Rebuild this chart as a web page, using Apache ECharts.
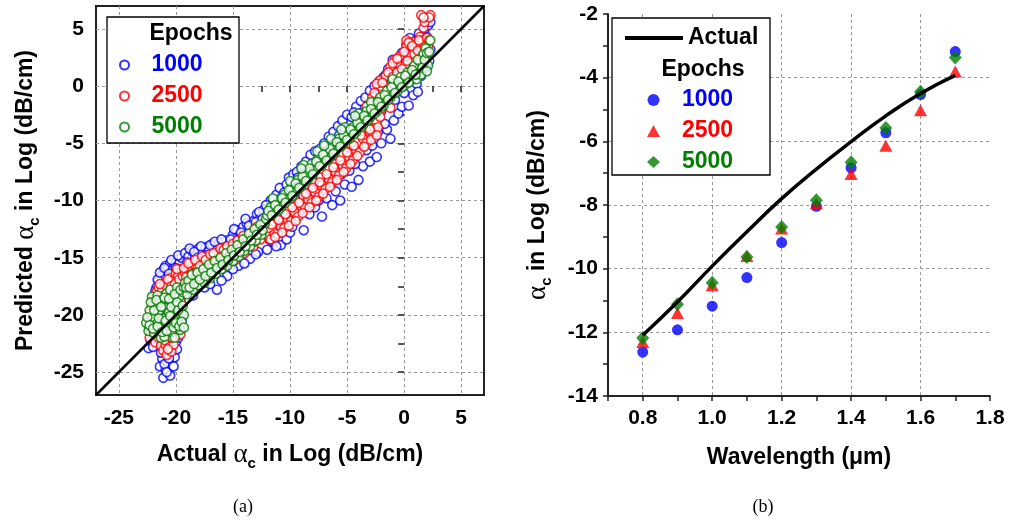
<!DOCTYPE html>
<html><head><meta charset="utf-8">
<script src="https://cdn.jsdelivr.net/npm/echarts@6/dist/echarts.min.js"></script>
<style>html,body{margin:0;padding:0;background:#fff}#c{width:1010px;height:522px}</style>
</head><body><div id="c"></div>
<script>
// ---------- DATA ----------
// Panel (a): [actual, predicted] pairs for each epoch count
const pred1000 = [
[-22.4,-22.9],[-22.2,-22.3],[-22.3,-21.2],[-22.1,-20.0],[-22.0,-19.2],[-21.9,-18.3],[-21.8,-21.8],[-21.7,-17.6],[-21.6,-22.3],[-21.5,-17.0],[-21.5,-20.5],[-21.4,-24.5],[-21.3,-16.6],[-21.2,-23.8],[-21.1,-25.5],[-21.1,-16.1],[-20.9,-15.7],[-20.9,-24.8],[-20.8,-19.5],[-20.7,-15.9],[-20.7,-24.1],[-20.5,-15.5],[-20.5,-25.3],[-20.3,-16.0],[-20.3,-23.2],[-20.2,-18.5],[-20.1,-15.6],[-20.1,-23.7],[-20.0,-22.4],[-19.9,-15.2],[-19.8,-22.0],[-19.7,-15.4],[-19.7,-21.2],[-19.6,-18.8],[-19.5,-15.0],[-19.5,-20.5],
[-22.0,-22.8],[-21.8,-17.9],[-21.6,-16.9],[-21.4,-16.3],[-21.0,-15.9],[-20.6,-16.4],[-20.4,-15.2],[-20.0,-15.9],[-19.8,-14.8],[-21.0,-24.3],[-20.8,-25.0],[-20.6,-23.8],[-20.2,-24.5],[-20.4,-22.0],[-19.9,-23.0],[-21.3,-23.3],
[-19.2,-14.6],[-18.9,-14.9],[-18.6,-14.4],[-18.5,-18.3],[-18.3,-14.9],[-18.0,-14.2],[-17.7,-14.6],[-17.5,-17.6],[-17.4,-14.1],[-17.1,-14.4],[-16.8,-13.8],[-16.5,-14.3],[-16.4,-17.8],[-16.2,-13.7],[-15.9,-14.1],[-15.6,-13.5],[-15.5,-16.6],[-15.3,-13.8],[-15.0,-13.0],[-14.7,-12.6],[-14.5,-15.7],[-14.4,-13.3],[-14.1,-12.3],[-13.8,-12.0],[-13.5,-12.6],[-13.5,-15.1],[-13.2,-11.8],[-12.9,-11.2],[-12.8,-14.5],[-12.6,-11.5],[-12.3,-10.8],[-12.0,-14.3],[-11.7,-10.0],[-11.5,-13.6],[-11.2,-9.5],[-10.9,-8.9],[-10.8,-13.9],[-10.5,-9.3],[-10.3,-13.4],[-10.1,-8.0],[-10.0,-12.8],
[-19.0,-15.4],[-18.8,-14.2],[-18.4,-14.5],[-18.1,-15.0],[-17.8,-14.0],[-17.3,-14.8],[-17.0,-13.9],[-16.6,-13.6],[-16.0,-13.4],[-15.7,-14.3],[-15.2,-13.4],[-14.9,-12.5],[-14.6,-13.5],[-14.3,-12.8],[-13.9,-11.6],[-13.6,-12.2],[-13.0,-11.9],[-12.7,-11.0],[-12.4,-11.6],[-12.1,-10.4],[-11.9,-11.0],[-11.5,-9.9],[-11.3,-10.5],[-10.7,-9.7],[-10.3,-8.6],
[-17.0,-17.3],[-16.0,-17.0],[-15.0,-16.0],[-14.0,-15.5],[-13.0,-14.7],[-11.8,-13.4],[-11.2,-14.0],
[-9.7,-7.7],[-9.4,-7.5],[-9.0,-7.0],[-8.6,-6.6],[-8.2,-6.0],[-7.8,-5.7],[-7.4,-5.5],[-7.0,-5.0],[-6.6,-4.4],[-6.2,-4.0],[-5.8,-3.5],[-5.4,-3.0],[-5.0,-2.5],[-4.6,-2.7],[-4.2,-1.8],[-3.8,-1.3],[-3.4,-1.0],[-3.0,-0.4],[-2.6,0.0],[-2.2,0.4],[-1.8,0.8],[-1.4,1.5],[-1.0,2.3],[-0.6,2.0],[-0.2,2.9],[0.2,3.6],[0.5,4.2],[0.9,3.9],[1.3,4.6],[1.8,5.0],[2.1,5.3],[2.3,5.6],
[-11.4,-12.2],[-10.6,-11.8],[-9.8,-12.3],[-9.2,-11.0],[-8.8,-12.6],[-8.3,-11.2],[-7.8,-10.6],[-7.2,-11.4],[-6.8,-9.8],[-6.3,-10.4],[-5.6,-10.0],[-5.2,-8.6],[-4.6,-8.8],[-4.0,-8.2],[-3.6,-7.0],[-3.0,-6.6],[-2.4,-6.2],[-2.0,-5.0],[-1.5,-3.8],[-1.2,-4.6],[-0.9,-3.0],[-0.5,-2.4],[-0.2,-1.8],[0.4,-1.7],[0.8,-0.8],[1.1,0.2],[1.5,0.9],[1.9,1.6],[2.2,2.2],
[-11.0,-11.0],[-9.5,-9.3],[-8.0,-8.3],[-6.5,-6.3],[-5.0,-5.3],[-3.5,-3.4],[-2.0,-2.2],[-0.5,-0.3],[1.0,1.2],
[-9.9,-8.4],[-9.6,-10.5],[-9.3,-8.0],[-8.9,-9.5],[-8.5,-7.4],[-8.1,-9.1],[-7.6,-6.5],[-7.5,-10.0],[-7.1,-6.0],[-6.9,-8.6],[-6.4,-5.3],[-6.0,-9.2],[-5.7,-4.3],[-5.5,-7.7],[-5.2,-3.8],[-4.8,-7.4],[-4.4,-2.3],[-4.3,-6.8],[-3.9,-2.4],[-3.3,-5.6],[-3.2,-1.7],[-2.8,-5.2],[-2.7,-0.9],[-2.3,-4.0],[-1.9,-0.3],[-1.7,-3.3],[-1.6,1.0],[-1.1,0.5],[-0.8,-1.2],[-0.4,1.3],[0.0,-0.6],[0.1,2.6],[0.6,0.8],[0.7,3.3],[1.2,-0.5],[1.4,2.8],[1.6,3.7],[2.0,4.3],[2.3,3.2]
];
const pred2500 = [
[-22.3,-22.0],[-22.2,-20.8],[-22.1,-19.3],[-22.0,-21.5],[-21.9,-18.5],[-21.8,-22.4],[-21.7,-18.0],[-21.5,-17.6],[-21.5,-22.0],[-21.5,-20.5],[-21.3,-22.7],[-21.2,-17.8],[-21.1,-23.1],[-21.0,-17.2],[-20.9,-22.6],[-20.8,-17.5],[-20.8,-23.5],[-20.8,-19.8],[-20.6,-22.8],[-20.5,-16.8],[-20.4,-23.2],[-20.3,-17.0],[-20.2,-22.6],[-20.2,-19.0],[-20.0,-16.4],[-20.0,-21.9],[-19.8,-16.6],[-19.8,-21.2],[-19.7,-20.2],[-19.6,-18.8],[-19.5,-16.0],
[-22.3,-21.0],[-22.2,-19.8],[-22.0,-18.9],[-21.8,-20.3],[-21.6,-18.6],[-21.4,-17.3],[-21.3,-19.0],[-21.0,-18.3],[-21.0,-22.2],[-20.7,-16.9],[-20.7,-23.0],[-20.6,-18.0],[-20.4,-17.5],[-20.3,-22.0],[-20.1,-17.3],[-19.9,-16.0],[-19.9,-19.5],[-19.7,-16.9],[-19.6,-21.7],[-19.4,-16.6],[-19.4,-17.6],
[-19.2,-16.3],[-19.0,-15.8],[-18.8,-17.3],[-18.7,-16.0],[-18.4,-15.6],[-18.1,-15.9],[-18.0,-16.9],[-17.8,-15.3],[-17.5,-15.6],[-17.2,-15.0],[-17.2,-16.4],[-16.9,-15.3],[-16.6,-14.8],[-16.4,-16.0],[-16.3,-15.1],[-16.0,-14.5],[-15.7,-14.8],[-15.6,-15.5],[-15.4,-14.2],[-15.1,-14.5],[-14.8,-13.9],[-14.8,-15.2],[-14.5,-14.1],[-14.2,-13.4],[-14.0,-14.6],[-13.9,-13.7],[-13.6,-13.0],[-13.3,-13.2],[-13.2,-14.0],[-13.0,-12.6],[-12.7,-12.9],[-12.4,-12.3],
[-19.3,-15.9],[-19.1,-16.7],[-18.9,-15.5],[-18.6,-16.4],[-18.3,-15.2],[-18.2,-16.3],[-17.9,-15.7],[-17.7,-14.9],[-17.6,-16.1],[-17.4,-15.2],[-17.0,-14.7],[-16.8,-15.6],[-16.7,-14.6],[-16.5,-15.4],[-16.1,-14.2],[-15.9,-15.0],[-15.8,-14.3],[-15.5,-14.0],[-15.3,-14.9],[-15.0,-13.8],[-14.9,-14.6],[-14.6,-13.5],[-14.4,-14.3],[-14.1,-13.1],[-13.8,-14.1],[-13.5,-13.3],[-13.4,-12.8],[-13.1,-13.6],[-12.9,-12.3],[-12.6,-13.4],[-12.5,-12.7],[-12.2,-12.6],
[-12.0,-13.0],[-11.7,-13.4],[-11.5,-11.9],[-11.4,-12.8],[-11.1,-12.9],[-10.8,-12.3],[-10.5,-12.4],[-10.2,-11.6],[-10.0,-10.8],[-9.9,-11.8],[-9.6,-11.0],[-9.3,-11.4],[-9.0,-10.5],[-8.8,-9.6],[-8.7,-10.6],[-8.4,-9.9],[-8.1,-10.2],[-7.8,-9.3],[-7.5,-9.7],[-7.3,-8.0],[-7.2,-8.7],[-6.9,-9.0],[-6.6,-8.1],[-6.3,-8.4],[-6.0,-7.5],[-6.0,-6.8],[-5.7,-7.8],[-5.4,-6.9],[-5.1,-7.2],[-4.8,-6.2],[-4.6,-5.1],[-4.5,-6.5],[-4.2,-5.6],[-3.9,-5.8],[-3.6,-4.6],[-3.6,-3.9],[-3.3,-5.0],[-3.0,-4.0],[-2.7,-4.3],[-2.4,-3.2],
[-11.9,-12.4],[-11.6,-12.1],[-11.3,-13.2],[-11.0,-11.7],[-10.7,-12.8],[-10.4,-11.2],[-10.1,-12.2],[-9.8,-10.6],[-9.5,-11.8],[-9.2,-10.2],[-8.9,-11.1],[-8.6,-9.4],[-8.3,-10.6],[-8.0,-8.9],[-7.7,-10.0],[-7.4,-8.4],[-7.1,-9.4],[-6.8,-7.7],[-6.5,-8.8],[-6.2,-7.1],[-5.9,-8.2],[-5.6,-6.5],[-5.3,-7.5],[-5.0,-5.8],[-4.7,-6.8],[-4.4,-5.2],[-4.1,-6.1],[-3.8,-4.3],[-3.5,-5.3],[-3.2,-3.6],[-2.9,-4.7],[-2.6,-3.7],[-2.3,-3.6],[-2.0,-2.0],
[-2.4,-4.3],[-3.0,-3.8],[-2.1,-2.7],[-1.8,-1.5],[-1.2,-1.9],[-3.3,-1.8],[-2.8,-1.0],[-2.1,0.0],[-2.1,0.5],[-1.6,0.9],[-1.2,1.7],[-0.8,2.3],[-0.8,-0.3],[-0.4,0.7],[-0.4,2.6],[0.1,1.8],[0.2,3.6],[0.2,4.0],[0.6,2.7],[0.8,1.4],[1.0,2.3],[1.0,3.9],[1.1,3.7],[1.4,1.7],[1.4,4.3],[1.6,4.0],[1.7,5.1],[1.8,5.6],[1.5,6.2],[2.3,6.2],[1.9,2.5],[2.1,3.5],
[-2.6,-0.6],[-2.4,0.2],[-1.9,0.3],[-1.5,-0.8],[-1.4,1.2],[-1.0,0.8],[-1.0,2.0],[-0.6,1.2],[-0.6,2.4],[-0.2,1.5],[0.0,3.0],[0.3,2.2],[0.4,3.8],[0.5,1.2],[0.7,3.5],[0.9,2.8],[1.2,3.1],[1.3,4.0],[1.6,2.6],[1.8,3.4],[2.0,4.2],[2.2,4.0],[2.2,6.0],[1.7,6.0]
];
const pred5000 = [
[-22.6,-20.7],[-22.4,-21.4],[-22.3,-19.6],[-22.1,-18.4],[-22.0,-20.2],[-21.9,-21.6],[-21.8,-19.0],[-21.7,-20.8],[-21.6,-18.3],[-21.5,-19.7],[-21.4,-21.2],[-21.3,-22.0],[-21.2,-18.7],[-21.1,-20.3],[-21.0,-21.9],[-20.9,-19.4],[-20.8,-18.1],[-20.7,-20.9],[-20.6,-19.8],[-20.5,-17.8],[-20.4,-21.5],[-20.3,-18.9],[-20.2,-20.4],[-20.1,-22.0],[-20.0,-19.2],[-19.9,-17.6],[-19.8,-20.8],[-19.7,-18.4],[-19.6,-21.3],[-19.5,-19.8],[-19.4,-18.0],[-19.3,-20.0],
[-22.5,-20.2],[-22.3,-20.9],[-22.2,-18.9],[-22.0,-21.2],[-21.9,-19.6],[-21.7,-18.7],[-21.6,-21.0],[-21.5,-20.3],[-21.3,-19.3],[-21.2,-21.5],[-21.0,-18.5],[-20.9,-20.5],[-20.8,-21.4],[-20.6,-18.6],[-20.5,-20.1],[-20.4,-19.3],[-20.2,-21.1],[-20.1,-18.2],[-20.0,-20.7],[-19.9,-18.9],[-19.8,-19.6],[-19.7,-21.0],[-19.6,-17.8],[-19.5,-20.6],[-19.4,-19.2],[-19.3,-17.6],[-19.3,-21.1],
[-19.2,-17.2],[-19.0,-18.2],[-18.7,-16.9],[-18.5,-17.8],[-18.2,-16.8],[-18.0,-17.4],[-17.7,-16.4],[-17.5,-17.2],[-17.2,-16.1],[-17.0,-16.8],[-16.7,-15.8],[-16.5,-16.4],[-16.2,-15.5],[-16.0,-16.0],[-15.7,-15.1],[-15.5,-15.7],[-15.2,-14.8],[-15.0,-15.3],[-14.7,-14.3],[-14.5,-14.9],[-14.2,-13.9],[-14.0,-14.4],[-13.7,-13.4],[-13.5,-14.0],[-13.2,-13.0],[-13.0,-13.5],[-12.7,-12.5],[-12.5,-13.0],[-12.2,-12.0],
[-19.1,-17.6],[-18.9,-17.0],[-18.8,-17.6],[-18.6,-16.5],[-18.4,-17.3],[-18.1,-16.3],[-17.9,-16.9],[-17.6,-16.0],[-17.4,-16.6],[-17.1,-15.6],[-16.9,-16.3],[-16.6,-15.3],[-16.4,-15.9],[-16.1,-15.0],[-15.9,-15.6],[-15.6,-14.6],[-15.4,-15.2],[-15.1,-14.3],[-14.9,-14.8],[-14.6,-13.9],[-14.4,-14.5],[-14.1,-13.4],[-13.9,-14.0],[-13.6,-12.9],[-13.4,-13.5],[-13.1,-12.5],[-12.9,-13.0],[-12.6,-12.1],[-12.4,-12.6],[-12.1,-11.6],
[-12.0,-11.3],[-11.7,-10.6],[-11.4,-11.0],[-11.1,-10.2],[-10.8,-10.6],[-10.5,-9.5],[-10.2,-9.9],[-9.9,-8.9],[-9.6,-9.3],[-9.3,-8.2],[-9.0,-8.7],[-8.7,-7.6],[-8.4,-8.1],[-8.1,-6.8],[-7.8,-7.4],[-7.5,-6.3],[-7.2,-6.9],[-6.9,-5.8],[-6.6,-6.3],[-6.3,-5.2],[-6.0,-5.7],[-5.7,-4.6],[-5.4,-5.1],[-5.1,-4.0],[-4.8,-4.6],[-4.5,-3.6],[-4.2,-4.0],[-3.9,-2.9],[-3.6,-3.4],[-3.3,-2.2],[-3.0,-2.8],[-2.7,-1.6],[-2.4,-2.2],[-2.1,-1.0],[-1.8,-1.7],[-1.5,-0.4],[-1.2,-1.0],[-0.9,0.2],[-0.6,-0.5],[-0.3,0.8],[0.0,0.0],[0.3,1.2],[0.6,0.5],[0.9,1.8],[1.1,0.6],[1.4,2.1],[1.5,1.0],[1.7,2.8],[1.9,3.3],[2.1,1.8],[2.3,4.0],
[-11.5,-9.8],[-10.0,-8.3],[-8.8,-6.9],[-7.6,-5.7],[-6.4,-4.6],[-5.2,-3.6],[-4.0,-2.4],[-2.9,-1.4],[-1.0,0.6],
[-11.9,-10.9],[-11.6,-11.3],[-11.3,-10.4],[-11.0,-10.8],[-10.7,-9.8],[-10.4,-10.2],[-10.1,-9.1],[-9.8,-9.6],[-9.5,-8.5],[-9.2,-8.9],[-8.9,-7.9],[-8.6,-8.3],[-8.3,-7.2],[-8.0,-7.7],[-7.7,-6.6],[-7.4,-7.0],[-7.1,-6.0],[-6.8,-6.5],[-6.5,-5.5],[-6.2,-5.9],[-5.9,-4.9],[-5.6,-5.3],[-5.3,-4.3],[-5.0,-4.7],[-4.7,-3.8],[-4.4,-4.2],[-4.1,-3.2],[-3.8,-3.6],[-3.5,-2.6],[-3.2,-3.0],[-2.9,-2.0],[-2.6,-2.4],[-2.3,-1.4],[-2.0,-1.8],[-1.7,-0.8],[-1.4,-1.2],[-1.1,-0.1],[-0.8,-0.6],[-0.5,0.4],[-0.2,-0.1],[0.1,0.9],[0.4,0.3],[0.7,1.4],[1.0,1.0],[1.2,2.3],[1.6,1.6],[1.8,2.3],[2.0,2.9],[2.2,3.0],[2.0,1.3],
[-9.0,-7.2],[-7.0,-5.2],[-5.5,-3.8],[-4.3,-2.6]
];
const identityRange = [-27, 7];              // ideal-fit line y = x over the axis range
const ticksA = [-25, -20, -15, -10, -5, 0, 5];
const tickMarksA = [-25, -22.5, -20, -17.5, -15, -12.5, -10, -7.5, -5, -2.5, 0, 2.5, 5];

// Panel (b)
const wavelength = [0.8, 0.9, 1.0, 1.1, 1.2, 1.3, 1.4, 1.5, 1.6, 1.7];
const actualB = [-12.09, -11.05, -9.92, -8.84, -7.80, -6.87, -6.01, -5.20, -4.50, -3.93];
const ep1000 = [-12.62, -11.92, -11.18, -10.28, -9.18, -8.04, -6.83, -5.73, -4.53, -3.18];
const ep2500 = [-12.30, -11.39, -10.52, -9.60, -8.74, -7.95, -7.03, -6.14, -5.02, -3.81];
const ep5000 = [-12.18, -11.12, -10.44, -9.63, -8.69, -7.85, -6.66, -5.58, -4.44, -3.37];
const wlTicks = [0.8, 1.0, 1.2, 1.4, 1.6, 1.8];
const wlTickMarks = [0.7, 0.8, 0.9, 1.0, 1.1, 1.2, 1.3, 1.4, 1.5, 1.6, 1.7, 1.8];
const yTicksB = [-14, -12, -10, -8, -6, -4, -2];
const yTickMarksB = [-14, -13, -12, -11, -10, -9, -8, -7, -6, -5, -4, -3, -2];

// ---------- STYLE ----------
const FONT = '"Liberation Sans", Arial, sans-serif';
const SERIF = '"Liberation Serif", "Times New Roman", serif';
const BLUE = '#0000ff', RED = '#ff0000', GREEN = '#008000';
const tickLbl = {fontFamily: FONT, fontWeight: 'bold', fontSize: 21, color: '#000'};
const gridLine = {show: true, showMinLine: false, showMaxLine: false, lineStyle: {type: [3, 3], color: '#9a9a9a', width: 1}};
const richName = {
  t: {fontFamily: FONT, fontWeight: 'bold', fontSize: 23, lineHeight: 32, color: '#000'},
  a: {fontFamily: SERIF, fontWeight: 'normal', fontSize: 27, lineHeight: 32, color: '#000'},
  s: {fontFamily: FONT, fontWeight: 'bold', fontSize: 15, lineHeight: 15, verticalAlign: 'bottom', color: '#000'}
};
const nameStyle = {fontFamily: FONT, fontWeight: 'bold', fontSize: 23, color: '#000', rich: richName};
const legendText = {fontFamily: FONT, fontWeight: 'bold', fontSize: 23, lineHeight: 24};

const chart = echarts.init(document.getElementById('c'), null, {renderer: 'canvas'});

const hollow = (c) => ({color: '#fff', borderColor: c, borderWidth: 1.6});

const option = {
  animation: false,
  backgroundColor: '#fff',
  grid: [
    {left: 96, top: 6, width: 388, height: 389, show: true, borderColor: '#222', borderWidth: 2, backgroundColor: 'transparent'},
    {left: 608, top: 14, width: 382, height: 382}
  ],
  xAxis: [
    {gridIndex: 0, type: 'value', min: identityRange[0], max: identityRange[1], position: 'bottom',
     axisLine: {show: false},
     axisTick: {show: true, inside: false, length: 6, customValues: tickMarksA, lineStyle: {color: '#222', width: 1.5}},
     axisLabel: {customValues: ticksA, margin: 13, ...tickLbl},
     splitLine: {show: false},
     name: '{t|Actual }{a|α}{s|c}{t| in Log (dB/cm)}', nameLocation: 'middle', nameGap: 44, nameTextStyle: nameStyle},
    {gridIndex: 0, type: 'value', min: identityRange[0], max: identityRange[1], position: 'top', splitNumber: 7,
     axisLine: {show: false}, axisTick: {show: false}, axisLabel: {show: false}, splitLine: gridLine},
    {gridIndex: 1, type: 'value', min: 0.7, max: 1.8, position: 'bottom',
     axisLine: {show: true, onZero: false, lineStyle: {color: '#222', width: 2}},
     axisTick: {show: true, inside: false, length: 5, customValues: wlTickMarks, lineStyle: {color: '#222', width: 1.5}},
     axisLabel: {customValues: wlTicks, margin: 12, formatter: v => v.toFixed(1), ...tickLbl},
     splitLine: {show: false},
     name: 'Wavelength (μm)', nameLocation: 'middle', nameGap: 50, nameTextStyle: {fontFamily: FONT, fontWeight: 'bold', fontSize: 23, color: '#000'}},
    {gridIndex: 1, type: 'value', min: 0.7, max: 1.8, position: 'top', splitNumber: 5,
     axisLine: {show: false}, axisTick: {show: false}, axisLabel: {show: false}, splitLine: gridLine}
  ],
  yAxis: [
    {gridIndex: 0, type: 'value', min: identityRange[0], max: identityRange[1], position: 'left',
     axisLine: {show: false},
     axisTick: {show: true, inside: false, length: 6, customValues: tickMarksA, lineStyle: {color: '#222', width: 1.5}},
     axisLabel: {customValues: ticksA, margin: 12, ...tickLbl},
     splitLine: {show: false},
     name: '{t|Predicted }{a|α}{s|c}{t| in Log (dB/cm)}', nameLocation: 'middle', nameGap: 54, nameTextStyle: nameStyle},
    {gridIndex: 0, type: 'value', min: identityRange[0], max: identityRange[1], position: 'right', splitNumber: 7,
     axisLine: {show: false}, axisTick: {show: false}, axisLabel: {show: false}, splitLine: gridLine},
    {gridIndex: 1, type: 'value', min: -14, max: -2, position: 'left',
     axisLine: {show: true, onZero: false, lineStyle: {color: '#222', width: 2}},
     axisTick: {show: true, inside: false, length: 5, customValues: yTickMarksB, lineStyle: {color: '#222', width: 1.5}},
     axisLabel: {customValues: yTicksB, margin: 10, ...tickLbl},
     splitLine: {show: false},
     name: '{a|α}{s|c}{t| in Log (dB/cm)}', nameLocation: 'middle', nameGap: 54, nameTextStyle: nameStyle},
    {gridIndex: 1, type: 'value', min: -14, max: -2, interval: 2, position: 'right',
     axisLine: {show: false}, axisTick: {show: false}, axisLabel: {show: false}, splitLine: gridLine}
  ],
  legend: [
    {data: [{name: '1000', textStyle: {color: BLUE}}, {name: '2500', textStyle: {color: RED}}, {name: '5000', textStyle: {color: GREEN}}],
     left: 119, top: 53, orient: 'vertical', padding: 0, itemWidth: 44, itemHeight: 9, itemGap: 7, selectedMode: false, z: 10,
     textStyle: legendText},
    {data: [{name: 'Actual', textStyle: {color: '#000'}}],
     left: 625, top: 26, orient: 'vertical', padding: 0, itemWidth: 58, itemHeight: 4, icon: 'rect', selectedMode: false, z: 10,
     textStyle: legendText},
    {data: [{name: '1000 ', textStyle: {color: BLUE}}, {name: '2500 ', textStyle: {color: RED}}, {name: '5000 ', textStyle: {color: GREEN}}],
     left: 647, top: 88, orient: 'vertical', padding: 0, itemWidth: 13, itemHeight: 12, itemGap: 7, selectedMode: false, z: 10,
     symbolKeepAspect: true,
     formatter: n => n.trim(),
     textStyle: Object.assign({padding: [0, 0, 0, 17]}, legendText)}
  ],
  graphic: [
    {type: 'rect', z: 3, shape: {x: 107, y: 17, width: 132, height: 126}, style: {fill: '#fff', stroke: '#000', lineWidth: 1.3}},
    {type: 'text', z: 11, x: 191, y: 34, style: {text: 'Epochs', font: 'bold 23px ' + FONT, fill: '#000', align: 'center', verticalAlign: 'middle', textAlign: 'center', textVerticalAlign: 'middle'}},
    {type: 'rect', z: 3, shape: {x: 612, y: 18, width: 158, height: 157}, style: {fill: '#fff', stroke: '#000', lineWidth: 1.3}},
    {type: 'text', z: 11, x: 703, y: 70, style: {text: 'Epochs', font: 'bold 23px ' + FONT, fill: '#000', align: 'center', verticalAlign: 'middle', textAlign: 'center', textVerticalAlign: 'middle'}},
    {type: 'text', z: 11, x: 243, y: 507, style: {text: '(a)', font: '18px ' + SERIF, fill: '#000', align: 'center', verticalAlign: 'middle', textAlign: 'center', textVerticalAlign: 'middle'}},
    {type: 'text', z: 11, x: 763, y: 507, style: {text: '(b)', font: '18px ' + SERIF, fill: '#000', align: 'center', verticalAlign: 'middle', textAlign: 'center', textVerticalAlign: 'middle'}}
  ],
  series: [
    {name: '1000', type: 'scatter', xAxisIndex: 0, yAxisIndex: 0, symbol: 'circle', symbolSize: 9, itemStyle: hollow(BLUE), data: pred1000},
    {name: '2500', type: 'scatter', xAxisIndex: 0, yAxisIndex: 0, symbol: 'circle', symbolSize: 9, itemStyle: hollow(RED), data: pred2500},
    {name: '5000', type: 'scatter', xAxisIndex: 0, yAxisIndex: 0, symbol: 'circle', symbolSize: 9, itemStyle: hollow(GREEN), data: pred5000},
    {name: 'ideal', type: 'line', xAxisIndex: 0, yAxisIndex: 0, z: 5, symbol: 'none', silent: true,
     lineStyle: {color: '#000', width: 2.5}, data: identityRange.map(v => [v, v])},
    {name: 'Actual', type: 'line', xAxisIndex: 2, yAxisIndex: 2, smooth: true, symbol: 'none', showSymbol: false,
     itemStyle: {color: '#000'}, lineStyle: {color: '#000', width: 3.5}, data: wavelength.map((w, i) => [w, actualB[i]])},
    {name: '1000 ', type: 'scatter', xAxisIndex: 2, yAxisIndex: 2, symbol: 'circle', symbolSize: 11, itemStyle: {color: BLUE}, data: wavelength.map((w, i) => [w, ep1000[i]])},
    {name: '2500 ', type: 'scatter', xAxisIndex: 2, yAxisIndex: 2, symbol: 'triangle', symbolSize: [13, 12], itemStyle: {color: RED}, data: wavelength.map((w, i) => [w, ep2500[i]])},
    {name: '5000 ', type: 'scatter', xAxisIndex: 2, yAxisIndex: 2, symbol: 'diamond', symbolSize: [13, 14], itemStyle: {color: GREEN}, data: wavelength.map((w, i) => [w, ep5000[i]])}
  ]
};
chart.setOption(option);
</script></body></html>
